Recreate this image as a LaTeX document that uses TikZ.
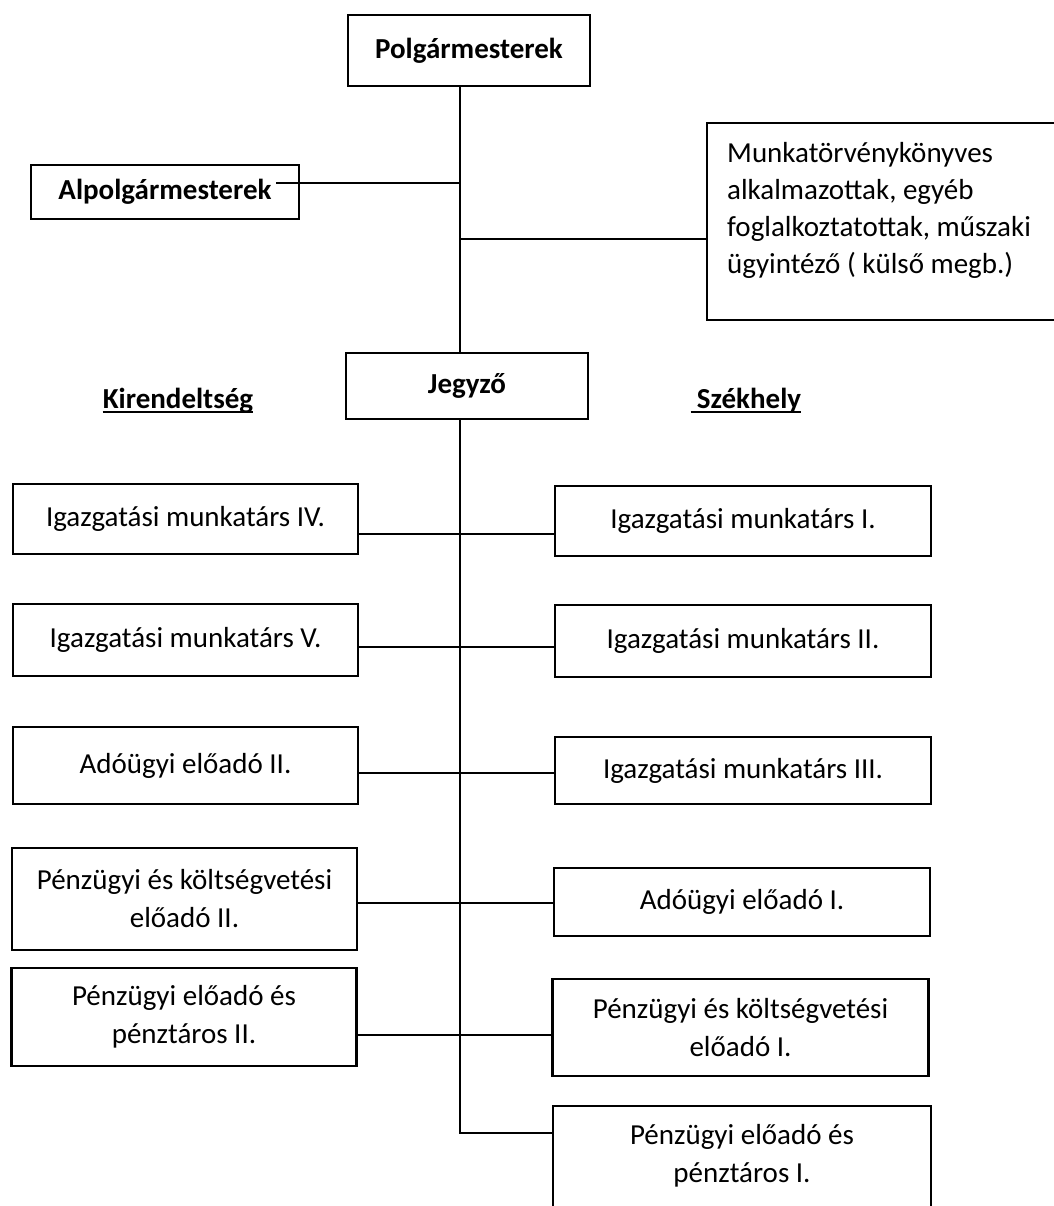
\documentclass[tikz,border=0pt]{standalone}
\usepackage{fontspec}
\setmainfont{Carlito}
\newcommand\boxfont{\fontsize{29}{38}\selectfont}
\begin{document}
\begin{tikzpicture}[x=1pt,y=-1pt,
  boxline/.style={line width=2.1pt},
  box/.style={draw, boxline, inner sep=0pt, align=center, font=\boxfont},
  lbox/.style={box, minimum width=345pt},
  rbox/.style={box, minimum width=376pt},
  conn/.style={line width=1.5pt},
  head/.style={inner sep=0pt, anchor=base, font=\boxfont\bfseries},
  uline/.style={line width=1.6pt}]
\useasboundingbox (0,0) rectangle (1053,1206);
\fill[white] (0,0) rectangle (1053,1206);

% top
\node[box, font=\boxfont\bfseries, minimum width=242pt, minimum height=71pt] (polg) at (469,50.5) {Polgármesterek};
\node[box, font=\boxfont\bfseries, minimum width=268pt, minimum height=54pt] (alpol) at (165,192) {Alpolgármesterek};
\node[box, minimum width=355pt, minimum height=197pt] (munka) at (884.5,221.5) {};
\node[inner sep=0pt, anchor=north west, align=left, font=\fontsize{29}{37}\selectfont] (munkatxt) at (727,142)
  {Munkatörvénykönyves\\alkalmazottak, egyéb\\foglalkoztatottak, műszaki\\ügyintéző ( külső megb.)};
\node[box, font=\boxfont\bfseries, minimum width=242pt, minimum height=66pt] (jeg) at (467,386) {Jegyző};

% headings
\node[head] (kir) at (178,408) {Kirendeltség};
\node[head] (szek) at (749,408) {Székhely};
\draw[uline] ([yshift=-4pt]kir.base west) -- ([yshift=-4pt]kir.base east);
\draw[uline] ([xshift=-6pt,yshift=-4pt]szek.base west) -- ([yshift=-4pt]szek.base east);

% left column
\node[lbox, minimum height=70pt] (l1) at (185.5,519) {Igazgatási munkatárs IV.};
\node[lbox, minimum height=72pt] (l2) at (185.5,640) {Igazgatási munkatárs V.};
\node[lbox, minimum height=77pt] (l3) at (185.5,765.5) {Adóügyi előadó II.};
\node[lbox, minimum height=102pt] (l4) at (184.5,899) {Pénzügyi és költségvetési\\előadó II.};
\node[lbox, minimum height=98pt] (l5) at (184,1017) {Pénzügyi előadó és\\pénztáros II.};

% right column
\node[rbox, minimum height=70pt] (r1) at (743,521) {Igazgatási munkatárs I.};
\node[rbox, minimum height=72pt] (r2) at (743,641) {Igazgatási munkatárs II.};
\node[rbox, minimum height=67pt] (r3) at (743,770.5) {Igazgatási munkatárs III.};
\node[rbox, minimum height=68pt] (r4) at (742,902) {Adóügyi előadó I.};
\node[rbox, minimum height=97pt] (r5) at (740.5,1027.5) {Pénzügyi és költségvetési\\előadó I.};
\node[rbox, draw=none, minimum height=97pt] (r6) at (742,1155.5) {Pénzügyi előadó és\\pénztáros I.};
\draw[boxline] (r6.north west) rectangle ([yshift=-20pt]r6.south east);

% trunk coordinates
\coordinate (ta) at (460,183);
\coordinate (tb) at (460,239);
\coordinate (t1) at (460,534);
\coordinate (t2) at (460,647);
\coordinate (t3) at (460,773);
\coordinate (t4) at (460,903);
\coordinate (t5) at (460,1035);
\coordinate (tend) at (460,1133);
\coordinate (astart) at ([xshift=-24pt]alpol.east);

% connectors
\draw[conn] (polg.south -| ta) -- (jeg.north -| ta);
\draw[conn] (astart |- ta) -- (ta);
\draw[conn] (tb) -- (munka.west |- tb);
\draw[conn] (jeg.south -| ta) -- (tend) -- (r6.west |- tend);
\draw[conn] (l1.east |- t1) -- (r1.west |- t1);
\draw[conn] (l2.east |- t2) -- (r2.west |- t2);
\draw[conn] (l3.east |- t3) -- (r3.west |- t3);
\draw[conn] (l4.east |- t4) -- (r4.west |- t4);
\draw[conn] (l5.east |- t5) -- (r5.west |- t5);
\end{tikzpicture}
\end{document}
